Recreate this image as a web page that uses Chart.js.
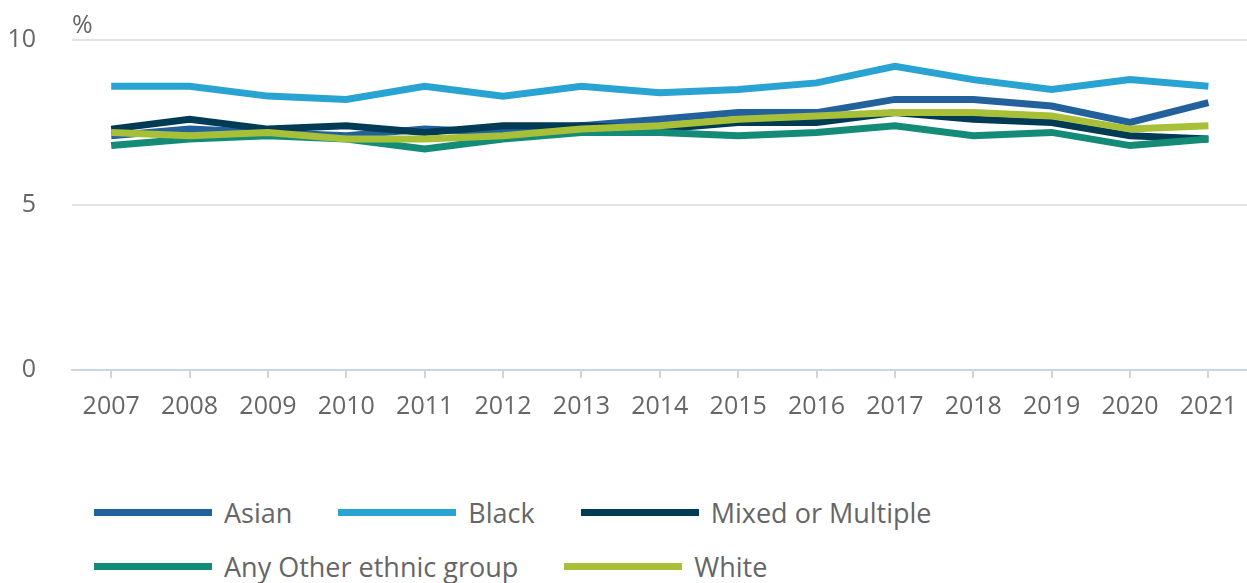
<!DOCTYPE html>
<html lang="en">
  <head>
    <meta charset="UTF-8" />
    <title>Ethnic group rates</title>
    <script src="https://cdn.jsdelivr.net/npm/chart.js@4"></script>
    <style>
      html, body { margin: 0; padding: 0; overflow: hidden; background: #fff; }
      #wrap { position: relative; width: 1251px; height: 583px; font-family: "Open Sans", sans-serif; }
      #chartBox { position: absolute; left: 0; top: 0; width: 1251px; height: 436px; }
      #unit { position: absolute; left: 72px; top: 6px; font-size: 25px; color: #666; }
      #legend { position: absolute; left: 94px; top: 492px; width: 900px; display: flex; flex-wrap: wrap; }
      .item { display: flex; align-items: center; margin-right: 46px; height: 40px; margin-bottom: 14px; }
      .swatch { width: 118px; height: 7px; margin-right: 12px; }
      .label { font-size: 27px; color: #666; }
    </style>
  </head>
  <body>
    <div id="wrap">
      <div id="chartBox"><canvas id="lineChart"></canvas></div>
      <div id="unit">%</div>
      <div id="legend"></div>
    </div>
    <script>
      const years = ["2007", "2008", "2009", "2010", "2011", "2012", "2013", "2014", "2015", "2016", "2017", "2018", "2019", "2020", "2021"];
      const asian = [7.1, 7.3, 7.2, 7.1, 7.3, 7.2, 7.4, 7.6, 7.8, 7.8, 8.2, 8.2, 8.0, 7.5, 8.1];
      const black = [8.6, 8.6, 8.3, 8.2, 8.6, 8.3, 8.6, 8.4, 8.5, 8.7, 9.2, 8.8, 8.5, 8.8, 8.6];
      const mixed = [7.3, 7.6, 7.3, 7.4, 7.2, 7.4, 7.4, 7.3, 7.5, 7.5, 7.8, 7.6, 7.5, 7.1, 7.0];
      const otherGroup = [6.8, 7.0, 7.1, 7.0, 6.7, 7.0, 7.2, 7.2, 7.1, 7.2, 7.4, 7.1, 7.2, 6.8, 7.0];
      const white = [7.2, 7.1, 7.2, 7.0, 7.0, 7.1, 7.3, 7.4, 7.6, 7.7, 7.8, 7.8, 7.7, 7.3, 7.4];
      const yTicks = [0, 5, 10];

      const series = [
        { label: "Asian", data: asian, color: "#22619b" },
        { label: "Black", data: black, color: "#29a3d1" },
        { label: "Mixed or Multiple", data: mixed, color: "#003b55" },
        { label: "Any Other ethnic group", data: otherGroup, color: "#138b77" },
        { label: "White", data: white, color: "#a8bf38" },
      ];

      const ctx = document.getElementById("lineChart").getContext("2d");

      const chart = new Chart(ctx, {
        type: "line",
        data: {
          labels: years,
          datasets: series.map((s, i) => ({
            label: s.label,
            data: s.data,
            borderColor: s.color,
            backgroundColor: s.color,
            borderWidth: 7,
            pointRadius: 0,
            tension: 0,
            order: series.length - i, // later series drawn on top
          })),
        },
        options: {
          responsive: true,
          maintainAspectRatio: false,
          animation: false,
          layout: { padding: { top: 40, left: 0, right: 0, bottom: 0 } },
          plugins: {
            legend: { display: false },
            tooltip: { enabled: false },
          },
          scales: {
            x: {
              offset: true,
              grid: {
                offset: false,
                drawOnChartArea: false,
                drawTicks: true,
                tickLength: 8,
                color: "#c9d6e4",
                lineWidth: 2,
              },
              border: { color: "#c9d6e4", width: 2 },
              ticks: {
                color: "#666",
                font: { family: "Open Sans", size: 25 },
                padding: 14,
                maxRotation: 0,
                autoSkip: false,
              },
            },
            y: {
              min: 0,
              max: 10,
              afterBuildTicks: (axis) => {
                axis.ticks = yTicks.map((v) => ({ value: v }));
              },
              afterFit: (axis) => {
                axis.width = 72;
                // tick padding would otherwise push the plot area down
                axis.paddingTop = 0;
                axis.paddingBottom = 0;
              },
              grid: {
                color: (c) => (c.tick.value === 0 ? "rgba(0,0,0,0)" : "#e3e3e3"),
                lineWidth: 2,
                drawTicks: false,
              },
              border: { display: false },
              ticks: {
                color: "#666",
                font: { family: "Open Sans", size: 25 },
                padding: 36,
              },
            },
          },
        },
      });

      // legend below the chart
      const legendBox = document.getElementById("legend");
      chart.data.datasets.forEach((ds) => {
        const item = document.createElement("div");
        item.className = "item";
        const sw = document.createElement("span");
        sw.className = "swatch";
        sw.style.background = ds.borderColor;
        const txt = document.createElement("span");
        txt.className = "label";
        txt.textContent = ds.label;
        item.appendChild(sw);
        item.appendChild(txt);
        legendBox.appendChild(item);
      });
    </script>
  </body>
</html>
